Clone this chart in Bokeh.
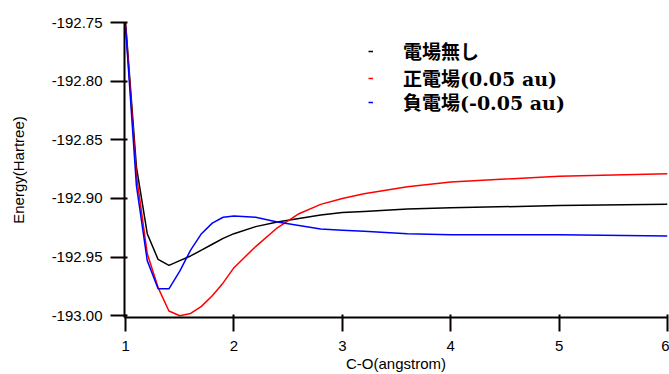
from bokeh.plotting import figure
from bokeh.models import Range1d, FixedTicker, PrintfTickFormatter, Legend, LegendItem
from bokeh.embed import file_html
from bokeh.resources import INLINE

# ---- data ----
bond_length = [1.0, 1.1, 1.2, 1.3, 1.4, 1.5, 1.6, 1.7, 1.8, 1.9, 2.0,
               2.2, 2.4, 2.6, 2.8, 3.0, 3.2, 3.6, 4.0, 5.0, 6.0]
energy_no_field = [-192.750, -192.873, -192.930, -192.952, -192.957, -192.953, -192.949,
                   -192.944, -192.939, -192.934, -192.930, -192.924, -192.920, -192.917,
                   -192.914, -192.912, -192.911, -192.909, -192.908, -192.906, -192.905]
energy_pos_field = [-192.752, -192.880, -192.947, -192.976, -192.996, -193.000, -192.998,
                    -192.992, -192.983, -192.972, -192.959, -192.941, -192.925, -192.913,
                    -192.905, -192.900, -192.896, -192.890, -192.886, -192.881, -192.879]
energy_neg_field = [-192.754, -192.889, -192.953, -192.977, -192.977, -192.962, -192.944,
                    -192.930, -192.921, -192.916, -192.915, -192.916, -192.920, -192.923,
                    -192.926, -192.927, -192.928, -192.930, -192.931, -192.931, -192.932]
series_labels = ["電場無し", "正電場(0.05 au)", "負電場(-0.05 au)"]
series_colors = ["#000000", "#ff0000", "#0000ff"]
x_ticks = [1, 2, 3, 4, 5, 6]
y_ticks = [-193.00, -192.95, -192.90, -192.85, -192.80, -192.75]

# legend row placement (screen px from the frame's bottom-left)
legend_x = 244
legend_rows_y = [253, 226, 202]

p = figure(width=669, height=374, output_backend="svg", toolbar_location=None,
           x_range=Range1d(0.99, 6.0), y_range=Range1d(-193.0015, -192.7499),
           min_border_left=124, min_border_right=2, min_border_top=22, min_border_bottom=0)
p.outline_line_color = None
p.xgrid.visible = False
p.ygrid.visible = False
p.background_fill_color = "white"
p.border_fill_color = "white"

renderers = []
for ys, c in zip([energy_no_field, energy_pos_field, energy_neg_field], series_colors):
    r = p.line(bond_length, ys, line_color=c, line_width=1.5)
    renderers.append(r)

p.axis.axis_line_width = 2
p.axis.axis_line_color = "#000000"
p.axis.minor_tick_line_color = None
p.axis.major_tick_out = 14
p.axis.major_tick_in = 3
p.axis.major_tick_line_width = 2
p.axis.major_tick_line_color = "#0a0000"
p.axis.major_label_text_font = "Liberation Sans"
p.axis.major_label_text_font_size = "15px"
p.axis.major_label_text_color = "#000000"
p.axis.axis_label_text_font = "Liberation Sans"
p.axis.axis_label_text_font_size = "15px"
p.axis.axis_label_text_font_style = "normal"
p.axis.axis_label_text_color = "#000000"

p.xaxis.ticker = FixedTicker(ticks=x_ticks)
p.xaxis.axis_label = "C-O(angstrom)"
p.xaxis.major_label_standoff = 9
p.xaxis.axis_label_standoff = 1

p.yaxis.ticker = FixedTicker(ticks=y_ticks)
p.yaxis.formatter = PrintfTickFormatter(format="%.2f")
p.yaxis.axis_label = "Energy(Hartree)"
p.yaxis.major_label_standoff = 8
p.yaxis.axis_label_standoff = 22

for lbl, r, ly in zip(series_labels, renderers, legend_rows_y):
    legend = Legend(
        items=[LegendItem(label=lbl, renderers=[r])],
        location=(legend_x, ly),
        label_text_font="'DejaVu Serif', 'Noto Sans CJK JP'",
        label_text_font_style="bold",
        label_text_font_size="19px",
        label_text_color="#000000",
        glyph_width=5, glyph_height=20, label_standoff=30, label_height=20,
        spacing=0, padding=0, margin=0,
        border_line_alpha=0, background_fill_alpha=0,
    )
    p.add_layout(legend)

open("out.html", "w").write(file_html(p, INLINE))
